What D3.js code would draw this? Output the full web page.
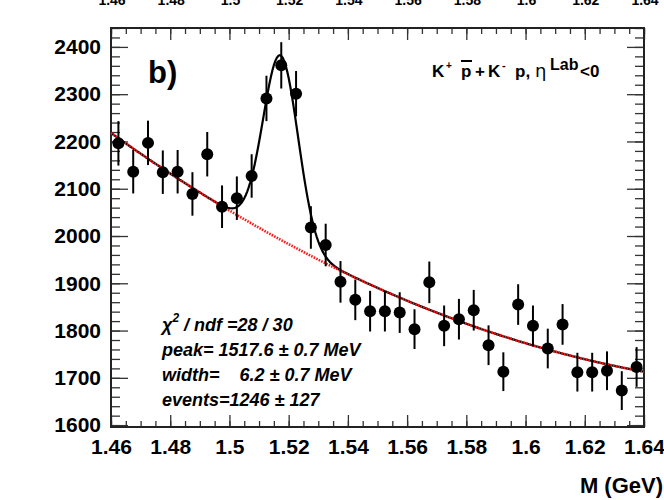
<!DOCTYPE html>
<html>
<head>
<meta charset="utf-8">
<script src="https://cdn.jsdelivr.net/npm/d3@7"></script>
<style>
  body { margin: 0; background: #fff; }
  svg { display: block; font-family: "Liberation Sans", Arial, sans-serif; }
  text { white-space: pre; }
</style>
</head>
<body>
<div id="chart"></div>
<script>
// bin centres (GeV), 5 MeV bins
const massBins = [1.4625, 1.4675, 1.4725, 1.4775, 1.4825, 1.4875, 1.4925, 1.4975, 1.5025,
  1.5075, 1.5125, 1.5175, 1.5225, 1.5275, 1.5325, 1.5375, 1.5425, 1.5475, 1.5525,
  1.5575, 1.5625, 1.5675, 1.5725, 1.5775, 1.5825, 1.5875, 1.5925, 1.5975, 1.6025,
  1.6075, 1.6125, 1.6175, 1.6225, 1.6275, 1.6325, 1.6375];
// entries per bin
const counts = [2196, 2136, 2197, 2135, 2136, 2089, 2173, 2062, 2080,
  2127, 2291, 2361, 2301, 2018, 1981, 1903, 1865, 1841, 1841,
  1838, 1803, 1902, 1810, 1824, 1843, 1769, 1713, 1855, 1810,
  1762, 1813, 1712, 1712, 1715, 1673, 1723];
// statistical errors
const errors = [47, 46, 47, 46, 46, 46, 47, 45, 46,
  46, 48, 49, 48, 45, 45, 44, 43, 43, 43,
  43, 42, 44, 43, 43, 43, 42, 41, 43, 43,
  42, 43, 41, 41, 41, 41, 42];

// fit: background pol2 in (M - 1.46), gaussian signal [amp, mean, sigma]
const bgPars = [2218, -4477, 9286];
const sigPars = [390, 1.5173, 0.0059];

const xTickLabels = [1.46, 1.48, 1.5, 1.52, 1.54, 1.56, 1.58, 1.6, 1.62, 1.64];
const statLines = [
  "peak= 1517.6 \u00b1 0.7 MeV",
  "width=    6.2 \u00b1 0.7 MeV",
  "events=1246 \u00b1 127"
];

const width = 664, height = 500;
const margin = { top: 28, left: 111, right: 20, bottom: 73 };

const x = d3.scaleLinear().domain([1.46, 1.64]).range([margin.left, width - margin.right]);
const y = d3.scaleLinear().domain([1596, 2440]).range([height - margin.bottom, margin.top]);

const svg = d3.select("#chart").append("svg")
  .attr("width", width)
  .attr("height", height);

// cut-off labels of the panel above
svg.append("g")
  .selectAll("text")
  .data(xTickLabels)
  .join("text")
  .attr("x", d => x(d) + 1)
  .attr("y", 5)
  .attr("text-anchor", "middle")
  .style("font-size", "14px")
  .style("font-weight", "bold")
  .text(d => String(d));

const fmtX = d => String(+d.toFixed(2));

// ---- axes: ROOT style, ticks inside on all four sides
function styleAxis(g) {
  g.select(".domain").remove();
  g.selectAll(".tick line").attr("stroke", "#333").attr("stroke-width", 1.3);
  g.selectAll(".tick text").attr("fill", "#000")
    .style("font-size", "21px").style("font-weight", "bold")
    .style("font-family", "'Liberation Sans', Arial, sans-serif");
}

const yb = height - margin.bottom, xr = width - margin.right;

svg.append("g").attr("transform", `translate(0,${yb})`)
  .call(d3.axisBottom(x).ticks(36).tickSize(-6).tickFormat(""))
  .call(styleAxis);
svg.append("g").attr("transform", `translate(0,${yb})`)
  .call(d3.axisBottom(x).tickValues(xTickLabels).tickSize(-12).tickPadding(12).tickFormat(fmtX))
  .call(styleAxis);
svg.append("g").attr("transform", `translate(0,${margin.top})`)
  .call(d3.axisTop(x).ticks(36).tickSize(-6).tickFormat(""))
  .call(styleAxis);
svg.append("g").attr("transform", `translate(0,${margin.top})`)
  .call(d3.axisTop(x).tickValues(xTickLabels).tickSize(-12).tickFormat(""))
  .call(styleAxis);

svg.append("g").attr("transform", `translate(${margin.left},0)`)
  .call(d3.axisLeft(y).ticks(40).tickSize(-9).tickFormat(""))
  .call(styleAxis);
svg.append("g").attr("transform", `translate(${margin.left},0)`)
  .call(d3.axisLeft(y).ticks(8).tickSize(-17).tickPadding(10).tickFormat(d3.format("d")))
  .call(styleAxis);
svg.append("g").attr("transform", `translate(${xr},0)`)
  .call(d3.axisRight(y).ticks(40).tickSize(-9).tickFormat(""))
  .call(styleAxis);
svg.append("g").attr("transform", `translate(${xr},0)`)
  .call(d3.axisRight(y).ticks(8).tickSize(-17).tickFormat(""))
  .call(styleAxis);

// frame
svg.append("rect")
  .attr("x", margin.left).attr("y", margin.top)
  .attr("width", xr - margin.left).attr("height", yb - margin.top)
  .attr("fill", "none").attr("stroke", "#222").attr("stroke-width", 2);

// ---- fit curves
const bg = m => { const t = m - 1.46; return bgPars[0] + bgPars[1] * t + bgPars[2] * t * t; };
const sig = m => sigPars[0] * Math.exp(-0.5 * Math.pow((m - sigPars[1]) / sigPars[2], 2));
const grid = d3.range(1.46, 1.64 + 1e-9, 0.0005);

const line = d3.line().x(d => x(d[0])).y(d => y(d[1]));

svg.append("path")
  .datum(grid.map(m => [m, bg(m) + sig(m)]))
  .attr("fill", "none").attr("stroke", "#000").attr("stroke-width", 2.2)
  .attr("d", line);

svg.append("path")
  .datum(grid.map(m => [m, bg(m)]))
  .attr("fill", "none").attr("stroke", "#ff1a1a").attr("stroke-width", 2.6)
  .attr("stroke-dasharray", "1.6,1.2")
  .attr("d", line);

// ---- data points
const pts = massBins.map((m, i) => ({ m, c: counts[i], e: errors[i] }));

svg.append("g")
  .selectAll("line")
  .data(pts)
  .join("line")
  .attr("x1", d => x(d.m)).attr("x2", d => x(d.m))
  .attr("y1", d => y(d.c - d.e)).attr("y2", d => y(d.c + d.e))
  .attr("stroke", "#000").attr("stroke-width", 2);

svg.append("g")
  .selectAll("circle")
  .data(pts)
  .join("circle")
  .attr("cx", d => x(d.m)).attr("cy", d => y(d.c))
  .attr("r", 6)
  .attr("fill", "#000");

// ---- labels
svg.append("text")
  .attr("x", 148).attr("y", 83)
  .style("font-size", "31px").style("font-weight", "bold")
  .text("b)");

// reaction label
const title = svg.append("g").style("font-weight", "bold");
const pieces = [
  { t: "K", x: 432, y: 77, s: 17 },
  { t: "+", x: 446, y: 69, s: 10 },
  { t: "p", x: 461, y: 77, s: 17 },
  { t: "+", x: 475, y: 77, s: 17 },
  { t: "K", x: 488, y: 77, s: 17 },
  { t: "-", x: 502, y: 69, s: 11 },
  { t: "p,", x: 515, y: 77, s: 17 },
  { t: "Lab", x: 550, y: 70, s: 16 },
  { t: "<0", x: 580, y: 77, s: 17 }
];
pieces.forEach(p => {
  title.append("text").attr("x", p.x).attr("y", p.y)
    .style("font-size", p.s + "px").text(p.t);
});
title.append("line")
  .attr("x1", 461).attr("x2", 472).attr("y1", 61).attr("y2", 61)
  .attr("stroke", "#000").attr("stroke-width", 2);
title.append("text").attr("x", 535).attr("y", 77)
  .style("font-size", "18px").style("font-weight", "normal")
  .style("font-family", "'DejaVu Sans', sans-serif")
  .text("\u03b7");

// fit statistics
const stats = svg.append("g")
  .style("font-size", "18px").style("font-weight", "bold").style("font-style", "italic");
const chi = stats.append("text").attr("x", 162).attr("y", 331);
chi.append("tspan").text("\u03c7");
chi.append("tspan").attr("dy", -9).style("font-size", "12px").text("2");
chi.append("tspan").attr("dy", 9).text(" / ndf =28 / 30");

stats.selectAll(".sline")
  .data(statLines)
  .join("text")
  .attr("class", "sline")
  .attr("x", 162)
  .attr("y", (d, i) => 356 + i * 25)
  .text(d => d);

svg.append("text")
  .attr("x", 663).attr("y", 493)
  .attr("text-anchor", "end")
  .style("font-size", "22px").style("font-weight", "bold")
  .text("M (GeV)");
</script>
</body>
</html>
